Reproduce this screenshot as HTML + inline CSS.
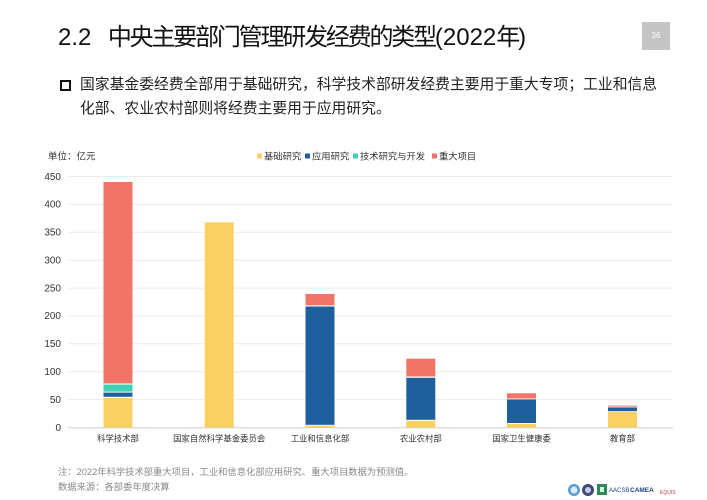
<!DOCTYPE html>
<html><head><meta charset="utf-8">
<style>
html,body{margin:0;padding:0;background:#fff;}
body{width:707px;height:500px;position:relative;overflow:hidden;font-family:"Liberation Sans","Noto Sans CJK SC",sans-serif;}
.title{position:absolute;left:58px;top:22px;font-size:24px;color:#111;white-space:nowrap;line-height:32px;}
.title .cj{letter-spacing:-2.2px;}
.pg{position:absolute;left:642px;top:22px;width:28px;height:28px;background:#c4c4c4;color:#fff;font-size:8px;text-align:center;line-height:28px;}
.bul{position:absolute;left:60px;top:80px;width:7px;height:7px;border:2px solid #111;}
.txt{position:absolute;left:80px;top:73px;font-size:14.8px;color:#222;line-height:24px;width:600px;}
.note{position:absolute;left:58px;top:465px;font-size:9.3px;color:#888;line-height:15px;white-space:nowrap;}
</style></head><body>
<div class="title"><span>2.2</span><span class="cj" style="margin-left:16.5px">中央主要部门管理研发经费的类型</span>(2022<span class="cj">年</span>)</div>
<div class="pg">36</div>
<div class="bul"></div>
<div class="txt">国家基金委经费全部用于基础研究，科学技术部研发经费主要用于重大专项；工业和信息<br>化部、农业农村部则将经费主要用于应用研究。</div>

<svg width="707" height="500" style="position:absolute;left:0;top:0" xmlns="http://www.w3.org/2000/svg" font-family="Liberation Sans, Noto Sans CJK SC, sans-serif">
<g stroke="#ececec" stroke-width="1">
<line x1="68" x2="673" y1="399.6" y2="399.6"/>
<line x1="68" x2="673" y1="371.7" y2="371.7"/>
<line x1="68" x2="673" y1="343.8" y2="343.8"/>
<line x1="68" x2="673" y1="315.9" y2="315.9"/>
<line x1="68" x2="673" y1="288.1" y2="288.1"/>
<line x1="68" x2="673" y1="260.2" y2="260.2"/>
<line x1="68" x2="673" y1="232.3" y2="232.3"/>
<line x1="68" x2="673" y1="204.4" y2="204.4"/>
<line x1="68" x2="673" y1="176.5" y2="176.5"/>
</g>
<line x1="68" x2="673" y1="427.8" y2="427.8" stroke="#d0d0d0" stroke-width="1"/>
<g font-size="10" fill="#333" text-anchor="end">
<text x="61" y="431">0</text>
<text x="61" y="403">50</text>
<text x="61" y="375">100</text>
<text x="61" y="347">150</text>
<text x="61" y="319">200</text>
<text x="61" y="291.5">250</text>
<text x="61" y="263.5">300</text>
<text x="61" y="235.5">350</text>
<text x="61" y="207.5">400</text>
<text x="61" y="180">450</text>
</g>
<text x="48" y="159.5" font-size="9.5" fill="#333">单位：亿元</text>
<g font-size="9.3" fill="#333">
<rect x="257" y="153.5" width="5" height="5" fill="#f8d162"/><text x="264" y="159.5">基础研究</text>
<rect x="305" y="153.5" width="5" height="5" fill="#1e5f9c"/><text x="312" y="159.5">应用研究</text>
<rect x="353" y="153.5" width="5" height="5" fill="#3dd0b3"/><text x="360" y="159.5">技术研究与开发</text>
<rect x="432" y="153.5" width="5" height="5" fill="#f27466"/><text x="439" y="159.5">重大项目</text>
</g>
<!-- bars -->
<g>
<rect x="103.5" y="398" width="29" height="29.5" fill="#f8d162"/>
<rect x="103.5" y="392.6" width="29" height="4.2" fill="#1e5f9c"/>
<rect x="103.5" y="384.6" width="29" height="7" fill="#3dd0b3"/>
<rect x="103.5" y="182" width="29" height="201.5" fill="#f27466"/>

<rect x="204.7" y="222.3" width="29" height="205.2" fill="#f8d162"/>

<rect x="305.5" y="425.6" width="29" height="1.9" fill="#f8d162"/>
<rect x="305.5" y="306.5" width="29" height="118.3" fill="#1e5f9c"/>
<rect x="305.5" y="294" width="29" height="11.3" fill="#f27466"/>

<rect x="406.3" y="420.8" width="29" height="6.7" fill="#f8d162"/>
<rect x="406.3" y="377.8" width="29" height="42" fill="#1e5f9c"/>
<rect x="406.3" y="358.7" width="29" height="17.8" fill="#f27466"/>

<rect x="507" y="423.8" width="29" height="3.7" fill="#f8d162"/>
<rect x="507" y="399.4" width="29" height="23.6" fill="#1e5f9c"/>
<rect x="507" y="393.3" width="29" height="5.2" fill="#f27466"/>

<rect x="608" y="412" width="29" height="15.5" fill="#f8d162"/>
<rect x="608" y="407.4" width="29" height="3.8" fill="#1e5f9c"/>
<rect x="608" y="405.6" width="29" height="1" fill="#f27466"/>
</g>
<g font-size="8.4" fill="#333" text-anchor="middle">
<text x="118" y="441.5">科学技术部</text>
<text x="219.2" y="441.5">国家自然科学基金委员会</text>
<text x="320" y="441.5">工业和信息化部</text>
<text x="420.8" y="441.5">农业农村部</text>
<text x="521.6" y="441.5">国家卫生健康委</text>
<text x="622.4" y="441.5">教育部</text>
</g>
<!-- logos -->
<g>
<circle cx="574" cy="490" r="6" fill="#5b9bd0"/><circle cx="574" cy="490" r="3.5" fill="#dbeaf6"/>
<circle cx="588" cy="490" r="6" fill="#3d4a7a"/><circle cx="588" cy="490" r="3" fill="#c8cce0"/>
<rect x="597" y="484" width="10" height="11" fill="#2e8b57"/><rect x="600" y="487" width="4" height="5" fill="#d9efe2"/>
<text x="609" y="492" font-size="6" fill="#1d3f8a">AACSB</text>
<text x="630" y="492" font-size="6.5" font-weight="bold" fill="#1d3f8a">CAMEA</text>
<text x="660" y="494" font-size="5" fill="#c04040">EQUIS</text>
</g>
</svg>
<div class="note">注：2022年科学技术部重大项目，工业和信息化部应用研究、重大项目数据为预测值。<br>数据来源：各部委年度决算</div>
</body></html>
